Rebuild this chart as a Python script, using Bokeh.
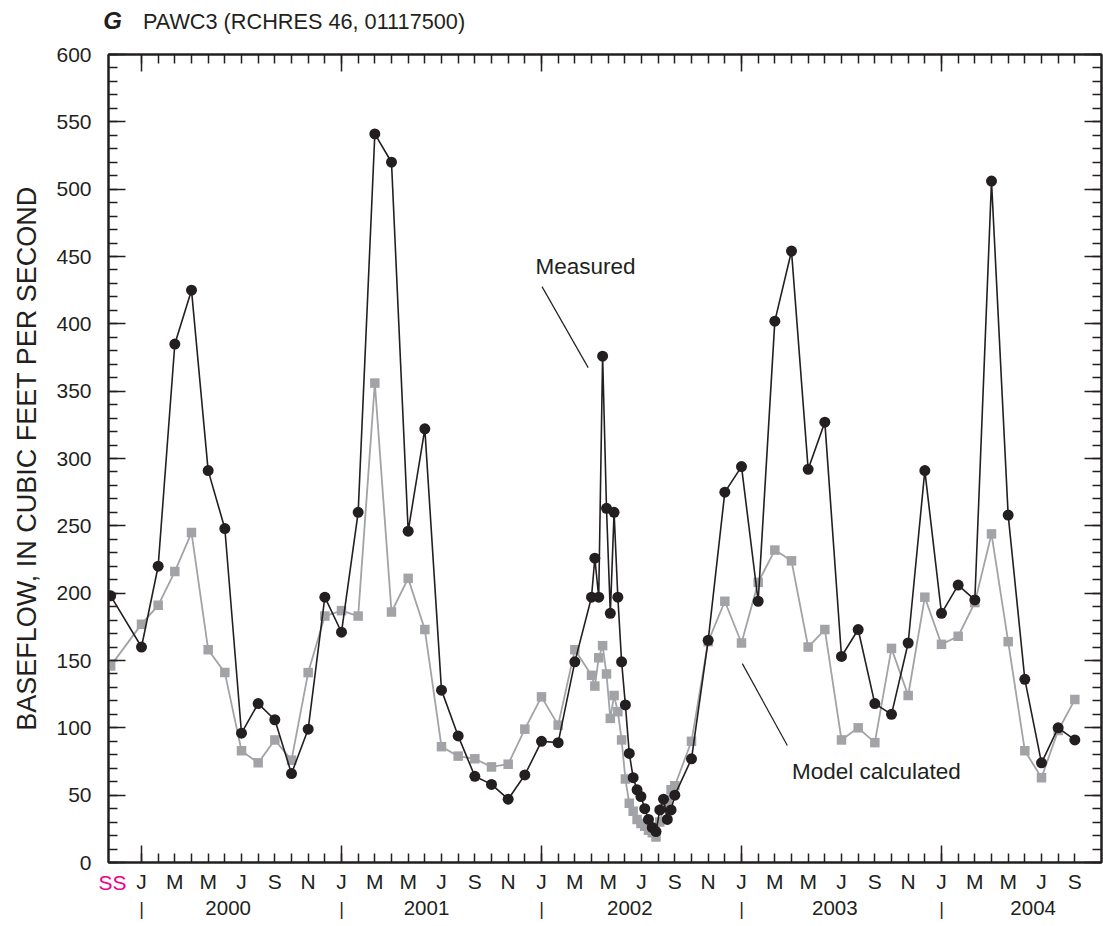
import calendar
from bokeh.plotting import figure
from bokeh.models import Range1d, LinearAxis, FixedTicker
from bokeh.models import Label
from bokeh.embed import file_html
from bokeh.resources import INLINE

# ---------------- data ----------------
TITLE_LETTER = "G"
TITLE = "PAWC3 (RCHRES 46, 01117500)"
Y_LABEL = "BASEFLOW, IN CUBIC FEET PER SECOND"

SS_LABEL = "SS"
SS_MEASURED = 198
SS_MODEL = 146

MONTHLY_A = ["2000-01-01", "2000-02-01", "2000-03-01", "2000-04-01", "2000-05-01", "2000-06-01",
             "2000-07-01", "2000-08-01", "2000-09-01", "2000-10-01", "2000-11-01", "2000-12-01",
             "2001-01-01", "2001-02-01", "2001-03-01", "2001-04-01", "2001-05-01", "2001-06-01",
             "2001-07-01", "2001-08-01", "2001-09-01", "2001-10-01", "2001-11-01", "2001-12-01",
             "2002-01-01", "2002-02-01", "2002-03-01", "2002-04-01"]
WEEKLY_2002 = ["2002-04-07", "2002-04-14", "2002-04-21", "2002-04-28", "2002-05-05", "2002-05-12",
               "2002-05-19", "2002-05-26", "2002-06-02", "2002-06-09", "2002-06-16", "2002-06-23",
               "2002-06-30", "2002-07-07", "2002-07-14", "2002-07-21", "2002-07-28", "2002-08-04",
               "2002-08-11", "2002-08-18", "2002-08-25", "2002-09-01"]
MONTHLY_B = ["2002-10-01", "2002-11-01", "2002-12-01",
             "2003-01-01", "2003-02-01", "2003-03-01", "2003-04-01", "2003-05-01", "2003-06-01",
             "2003-07-01", "2003-08-01", "2003-09-01", "2003-10-01", "2003-11-01", "2003-12-01",
             "2004-01-01", "2004-02-01", "2004-03-01", "2004-04-01", "2004-05-01", "2004-06-01",
             "2004-07-01", "2004-08-01", "2004-09-01"]

MEASURED_A = [160, 220, 385, 425, 291, 248, 96, 118, 106, 66, 99, 197,
              171, 260, 541, 520, 246, 322, 128, 94, 64, 58, 47, 65,
              90, 89, 149, 197]
MEASURED_W = [226, 197, 376, 263, 185, 260, 197, 149, 117, 81, 63, 54,
              49, 40, 32, 26, 23, 39, 47, 32, 39, 50]
MEASURED_B = [77, 165, 275, 294, 194, 402, 454, 292, 327, 153, 173, 118,
              110, 163, 291, 185, 206, 195, 506, 258, 136, 74, 100, 91]

MODEL_A = [177, 191, 216, 245, 158, 141, 83, 74, 91, 76, 141, 183,
           187, 183, 356, 186, 211, 173, 86, 79, 77, 71, 73, 99,
           123, 102, 158, 139]
MODEL_W = [131, 152, 161, 140, 107, 124, 112, 91, 62, 44, 38, 32,
           29, 27, 24, 22, 19, 30, 40, 46, 54, 57]
MODEL_B = [90, 164, 194, 163, 208, 232, 224, 160, 173, 91, 100, 89,
           159, 124, 197, 162, 168, 193, 244, 164, 83, 63, 98, 121]

MONTH_LETTERS = ["J", "", "M", "", "M", "", "J", "", "S", "", "N", ""]
YEARS = ["2000", "2001", "2002", "2003", "2004"]

# ---------------- layout / styling ----------------
FONT = "Liberation Sans"
BLACK = "#231f20"
GRAY = "#a2a3a6"
MAGENTA = "#ec008c"
SS_POS = -1.85          # x position of the steady-state points
SS_TICK = -1.74         # x position of the "SS" tick label
YEAR_POS = [5.2, 17.1, 29.3, 41.6, 53.5]
TITLE_POS = 9.75
N_MONTHS = 57


def month_pos(d):
    y, m, day = (int(v) for v in d.split("-"))
    return (y - 2000) * 12 + (m - 1) + (day - 1) / calendar.monthrange(y, m)[1]


dates = MONTHLY_A + WEEKLY_2002 + MONTHLY_B
xs = [SS_POS] + [month_pos(d) for d in dates]
measured = [SS_MEASURED] + MEASURED_A + MEASURED_W + MEASURED_B
model = [SS_MODEL] + MODEL_A + MODEL_W + MODEL_B

p = figure(width=1103, height=926, x_range=Range1d(-1.98, 57.6), y_range=Range1d(0, 600),
           output_backend="svg", toolbar_location=None,
           x_axis_location=None, y_axis_location=None,
           min_border_left=108, min_border_right=2, min_border_top=54, min_border_bottom=64)
p.grid.visible = False
p.outline_line_color = BLACK
p.outline_line_width = 2
p.background_fill_color = "white"
p.border_fill_color = "white"

month_ticker = FixedTicker(ticks=list(range(N_MONTHS)), minor_ticks=[0, 12, 24, 36, 48])
y_ticker = FixedTicker(ticks=list(range(0, 601, 50)), minor_ticks=list(range(0, 601, 10)))


def style_axis(ax, major_len, minor_len, size="21px"):
    ax.axis_line_color = BLACK
    ax.axis_line_width = 2
    ax.major_tick_in = major_len
    ax.major_tick_out = 0
    ax.minor_tick_in = minor_len
    ax.minor_tick_out = 0
    ax.major_tick_line_color = BLACK
    ax.minor_tick_line_color = BLACK
    ax.major_tick_line_width = 1.5
    ax.minor_tick_line_width = 1.5
    ax.major_label_text_font = FONT
    ax.major_label_text_color = BLACK
    ax.major_label_text_font_size = size


def text_axis(ticks, labels, size, standoff, color=BLACK, style="normal"):
    ax = LinearAxis(ticker=FixedTicker(ticks=ticks, minor_ticks=[]),
                    major_label_overrides=dict(zip(ticks, labels)))
    ax.axis_line_color = None
    ax.major_tick_line_color = None
    ax.minor_tick_line_color = None
    ax.major_tick_in = 0
    ax.major_tick_out = 0
    ax.major_label_text_font = FONT
    ax.major_label_text_font_size = size
    ax.major_label_text_color = color
    ax.major_label_text_font_style = style
    ax.major_label_standoff = standoff
    return ax


# bottom: frame axis with month letters
xb = LinearAxis(ticker=month_ticker,
                major_label_overrides={i: MONTH_LETTERS[i % 12] for i in range(N_MONTHS)})
style_axis(xb, 9, 17)
xb.major_label_standoff = 7
p.add_layout(xb, "below")
# "SS" on the month row (pulled back up with a negative standoff)
p.add_layout(text_axis([SS_TICK], [SS_LABEL], "21px", -25, color=MAGENTA), "below")
# year separators and year labels
p.add_layout(text_axis([0, 12, 24, 36, 48], ["|"] * 5, "18px", 2), "below")
p.add_layout(text_axis(YEAR_POS, YEARS, "20.5px", -21), "below")

# top: frame axis (ticks only), then title
xt = LinearAxis(ticker=month_ticker, major_label_overrides={i: "" for i in range(N_MONTHS)})
style_axis(xt, 9, 17, size="1px")
xt.major_label_standoff = 0
p.add_layout(xt, "above")
p.add_layout(text_axis([TITLE_POS], [TITLE], "21.7px", 21), "above")
p.add_layout(text_axis([SS_TICK], [TITLE_LETTER], "24px", -28, style="bold italic"), "above")

# left / right
yl = LinearAxis(ticker=y_ticker, axis_label=Y_LABEL)
style_axis(yl, 17, 9)
yl.major_label_standoff = 17
yl.axis_label_text_font = FONT
yl.axis_label_text_font_size = "27px"
yl.axis_label_text_font_style = "normal"
yl.axis_label_text_color = BLACK
yl.axis_label_standoff = 11
p.add_layout(yl, "left")

yr = LinearAxis(ticker=y_ticker, major_label_overrides={v: "" for v in range(0, 601, 50)})
style_axis(yr, 17, 9, size="1px")
yr.major_label_standoff = 0
p.add_layout(yr, "right")

# series
p.line(xs, model, line_color=GRAY, line_width=1.8)
p.scatter(xs, model, marker="square", size=9.5, fill_color=GRAY, line_color=None)
p.line(xs, measured, line_color=BLACK, line_width=1.6)
p.scatter(xs, measured, marker="circle", size=11, fill_color=BLACK, line_color=None)

# leader lines
p.segment(x0=[24.03, 36.05], y0=[427.6, 147.7], x1=[26.8, 38.75], y1=[367.5, 86.9],
          line_color=BLACK, line_width=1.2)

# annotations
p.add_layout(Label(x=23.64, y=442.6, text="Measured", text_font=FONT, text_font_size="22.5px",
                   text_color=BLACK, text_align="left", text_baseline="middle"))
p.add_layout(Label(x=39.03, y=67.6, text="Model calculated", text_font=FONT,
                   text_font_size="22.5px", text_color=BLACK, text_align="left",
                   text_baseline="middle"))

open("out.html", "w").write(file_html(p, INLINE))
